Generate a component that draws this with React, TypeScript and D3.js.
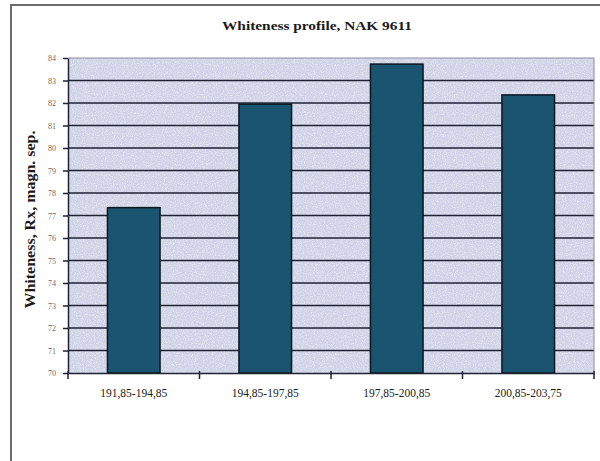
import React, { useEffect, useRef } from 'react';
import * as d3 from 'd3';

// chart data
const categories = ['191,85-194,85', '194,85-197,85', '197,85-200,85', '200,85-203,75'];
const whiteness = [77.35, 81.95, 83.73, 82.36];
const yTicks = [70, 71, 72, 73, 74, 75, 76, 77, 78, 79, 80, 81, 82, 83, 84];
const chartTitle = 'Whiteness profile, NAK 9611';
const yTitle = 'Whiteness, Rx, magn. sep.';

/* Draws the bar chart */
function App() {
    const svgRef = useRef<SVGSVGElement>(null);
    const width = 600;
    const height = 461;
    const plot = { left: 68, right: 594, top: 58, bottom: 373 };

    useEffect(() => {
        const svg = d3.select(svgRef.current);
        svg.selectAll('*').remove();

        // Light speckle texture for the scanned look
        const defs = svg.append('defs');
        const noise = defs.append('filter').attr('id', 'grain')
            .attr('x', 0).attr('y', 0).attr('width', 1).attr('height', 1);
        noise.append('feTurbulence')
            .attr('type', 'fractalNoise')
            .attr('baseFrequency', 0.9)
            .attr('numOctaves', 2)
            .attr('seed', 3)
            .attr('result', 'n');
        noise.append('feColorMatrix')
            .attr('in', 'n')
            .attr('type', 'matrix')
            .attr('values', '0 0 0 0 1  0 0 0 0 1  0 0 0 0 1  0 0 0 1.1 -0.45')
            .attr('result', 'a');
        noise.append('feComposite').attr('in', 'a').attr('in2', 'SourceGraphic').attr('operator', 'in').attr('result', 'm');
        noise.append('feMerge').call(m => {
            m.append('feMergeNode').attr('in', 'SourceGraphic');
            m.append('feMergeNode').attr('in', 'm');
        });

        // Outer frame
        svg.append('rect')
            .attr('x', 11).attr('y', 5)
            .attr('width', 620).attr('height', 480)
            .attr('fill', '#ffffff')
            .attr('stroke', '#6b6b6b')
            .attr('stroke-width', 2);

        // Title
        svg.append('text')
            .attr('x', 317).attr('y', 30)
            .attr('text-anchor', 'middle')
            .attr('font-family', '"Liberation Serif", "DejaVu Serif", serif')
            .attr('font-weight', 'bold')
            .attr('font-size', 13)
            .attr('textLength', 190)
            .attr('lengthAdjust', 'spacingAndGlyphs')
            .attr('fill', '#1a1a1a')
            .text(chartTitle);

        const x = d3.scaleBand()
            .domain(categories)
            .range([plot.left, plot.right])
            .paddingInner(0.6)
            .paddingOuter(0.3);

        const y = d3.scaleLinear()
            .domain([70, 84])
            .range([plot.bottom, plot.top]);

        // Plot background
        svg.append('rect')
            .attr('x', plot.left).attr('y', plot.top)
            .attr('width', plot.right - plot.left)
            .attr('height', plot.bottom - plot.top)
            .attr('fill', '#cfd2e6')
            .attr('filter', 'url(#grain)');

        // Gridlines
        svg.append('g')
            .selectAll('line')
            .data(yTicks.filter(t => t > 70 && t < 84))
            .enter()
            .append('line')
            .attr('x1', plot.left).attr('x2', plot.right)
            .attr('y1', d => y(d)).attr('y2', d => y(d))
            .attr('stroke', '#1e2233')
            .attr('stroke-width', 1.6);

        // Top and right edges of plot, faint
        svg.append('line')
            .attr('x1', plot.left).attr('x2', plot.right)
            .attr('y1', plot.top).attr('y2', plot.top)
            .attr('stroke', '#8a8ca0')
            .attr('stroke-width', 1);
        svg.append('line')
            .attr('x1', plot.right).attr('x2', plot.right)
            .attr('y1', plot.top).attr('y2', plot.bottom)
            .attr('stroke', '#8a8ca0')
            .attr('stroke-width', 1);

        // Bars
        svg.append('g')
            .selectAll('rect')
            .data(whiteness)
            .enter()
            .append('rect')
            .attr('x', (_, i) => x(categories[i]) as number)
            .attr('y', d => y(d))
            .attr('width', x.bandwidth())
            .attr('height', d => y(70) - y(d))
            .attr('fill', '#1b5470')
            .attr('stroke', '#0b1822')
            .attr('stroke-width', 1.5);

        // Y axis
        const yAxis = svg.append('g')
            .attr('transform', `translate(${plot.left},0)`)
            .call(d3.axisLeft(y).tickValues(yTicks).tickSize(5).tickPadding(7).tickSizeOuter(0));
        yAxis.select('.domain').attr('stroke', '#1e2233').attr('stroke-width', 1.5);
        yAxis.selectAll('.tick line').attr('stroke', '#1e2233').attr('stroke-width', 1.5);
        yAxis.selectAll('.tick text')
            .attr('font-family', '"Liberation Serif", serif')
            .attr('font-size', 8)
            .attr('fill', '#6a6a6a');

        // X axis
        const xAxis = svg.append('g')
            .attr('transform', `translate(0,${plot.bottom})`)
            .call(d3.axisBottom(x).tickSize(0).tickPadding(0).tickSizeOuter(0));
        xAxis.select('.domain').attr('stroke', '#1e2233').attr('stroke-width', 1.5);
        xAxis.selectAll('.tick text')
            .attr('y', 24)
            .attr('dy', 0)
            .attr('font-family', '"Liberation Serif", serif')
            .attr('font-size', 11.5)
            .attr('fill', '#222222');

        // Category boundary ticks
        const step = x.step();
        svg.append('g')
            .selectAll('line')
            .data(d3.range(categories.length + 1))
            .enter()
            .append('line')
            .attr('x1', i => plot.left + i * step)
            .attr('x2', i => plot.left + i * step)
            .attr('y1', plot.bottom - 2)
            .attr('y2', plot.bottom + 6)
            .attr('stroke', '#1e2233')
            .attr('stroke-width', 1.5);

        // Y axis title
        svg.append('text')
            .attr('transform', `translate(35, ${(plot.top + plot.bottom) / 2 + 4}) rotate(-90)`)
            .attr('text-anchor', 'middle')
            .attr('font-family', '"Liberation Serif", "DejaVu Serif", serif')
            .attr('font-weight', 'bold')
            .attr('font-size', 14)
            .attr('textLength', 178)
            .attr('lengthAdjust', 'spacingAndGlyphs')
            .attr('fill', '#1a1a1a')
            .text(yTitle);
    }, []);

    return (
        <svg
            ref={svgRef}
            width={width}
            height={height}
            style={{ position: 'absolute', left: 0, top: 0, background: '#ffffff' }}
        />
    );
}

export default App;
